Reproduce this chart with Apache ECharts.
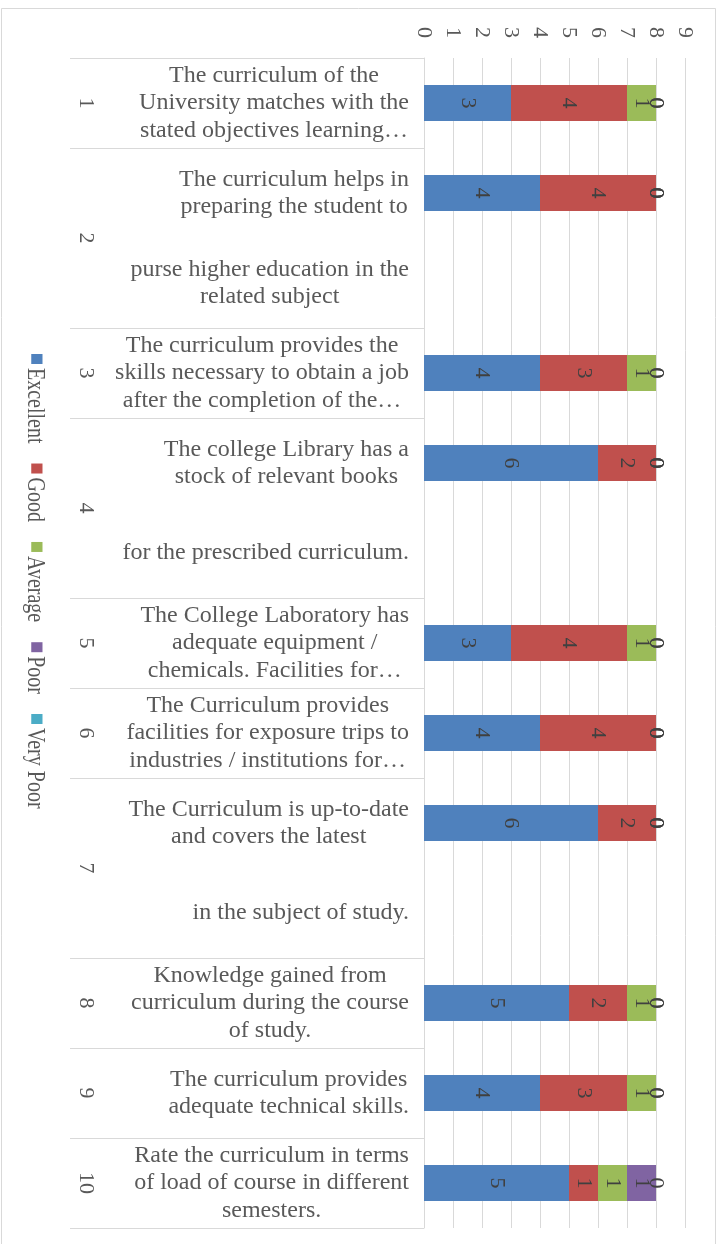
<!DOCTYPE html>
<html>
<head>
<meta charset="utf-8">
<script src="https://cdn.jsdelivr.net/npm/echarts@6/dist/echarts.min.js"></script>
<style>
  html, body { margin: 0; padding: 0; background: #fff; }
  #chart { width: 721px; height: 1244px; }
</style>
</head>
<body>
<div id="chart"></div>
<script>
// row number each category slot belongs to (rows 2, 4 and 7 take two slots)
const slotRow = ['1', '2', '2', '3', '4', '4', '5', '6', '7', '7', '8', '9', '10'];
const slotText = [
  'The curriculum of the\nUniversity matches with the\nstated objectives learning…',
  'The curriculum helps in\npreparing the student to',
  'purse higher education in the\nrelated subject',
  'The curriculum provides the\nskills necessary to obtain a job\nafter the completion of the…',
  'The college Library has a\nstock of relevant books',
  'for the prescribed curriculum.',
  'The College Laboratory has\nadequate equipment /\nchemicals. Facilities for…',
  'The Curriculum provides\nfacilities for exposure trips to\nindustries / institutions for…',
  'The Curriculum is up-to-date\nand covers the latest',
  'in the subject of study.',
  'Knowledge gained from\ncurriculum during the course\nof study.',
  'The curriculum provides\nadequate technical skills.',
  'Rate the curriculum in terms\nof load of course in different\nsemesters.'
];
const seriesNames = ['Excellent', 'Good', 'Average', 'Poor', 'Very Poor'];
const excellent = [3, 4, null, 4, 6, null, 3, 4, 6, null, 5, 4, 5];
const good      = [4, 4, null, 3, 2, null, 4, 4, 2, null, 2, 3, 1];
const average   = [1, 0, null, 1, 0, null, 1, 0, 0, null, 1, 1, 1];
const poor      = [0, 0, null, 0, 0, null, 0, 0, 0, null, 0, 0, 1];
const veryPoor  = [0, 0, null, 0, 0, null, 0, 0, 0, null, 0, 0, 0];
const colors = ['#4F81BD', '#C0504D', '#9BBB59', '#8064A2', '#4BACC6'];

const seriesData = [excellent, good, average, poor, veryPoor];
const FONT = 'Liberation Serif';

// centre of each row (in slot units) -> row number, used by the outer label axis
const rowCenters = {};
slotRow.forEach((r, i) => {
  if (i > 0 && slotRow[i - 1] === r) return;
  let last = i;
  while (last + 1 < slotRow.length && slotRow[last + 1] === r) last++;
  rowCenters[((i + last + 1) / 2).toFixed(1)] = r;
});

// legend drawn as a rotated group
const ctx = document.createElement('canvas').getContext('2d');
ctx.font = '20px "' + FONT + '"';
const legendItems = [];
let pos = 0;
seriesNames.forEach((name, i) => {
  legendItems.push({ type: 'rect', shape: { x: pos, y: -6, width: 10, height: 9 }, style: { fill: colors[i] } });
  pos += 14;
  legendItems.push({
    type: 'text', x: pos, y: 0,
    style: { text: name, font: '20px "' + FONT + '"', fill: '#595959', verticalAlign: 'middle' }
  });
  pos += ctx.measureText(name).width + 20;
});

const chart = echarts.init(document.getElementById('chart'));
chart.setOption({
  animation: false,
  backgroundColor: '#fff',
  grid: { left: 424, right: 36, top: 58, bottom: 16 },
  graphic: [
    {
      type: 'rect', silent: true,
      shape: { x: 1.5, y: 8.5, width: 714, height: 1250 },
      style: { fill: 'none', stroke: '#d9d9d9', lineWidth: 1 }
    },
    { type: 'group', x: 35, y: 354, rotation: -Math.PI / 2, scaleY: 1.25, children: legendItems }
  ],
  xAxis: {
    type: 'value', position: 'top', min: 0, max: 9, interval: 1,
    axisLine: { show: false },
    axisTick: { show: false },
    splitLine: { lineStyle: { color: '#d9d9d9', width: 1 } },
    axisLabel: { rotate: -90, margin: 20, fontFamily: FONT, fontSize: 22, color: '#595959' }
  },
  yAxis: [
    {
      type: 'category', inverse: true, data: slotText,
      axisLine: { show: true, lineStyle: { color: '#d9d9d9' } },
      axisTick: {
        show: true, length: 354, lineStyle: { color: '#d9d9d9' },
        interval: (i) => i === 0 || slotRow[i] !== slotRow[i - 1]
      },
      splitLine: { show: false },
      axisLabel: {
        interval: 0, margin: 15, align: 'right',
        formatter: (v) => v.split('\n').map(s => '{c|' + s + '}').join('\n'),
        rich: { c: { align: 'center', fontFamily: FONT, fontSize: 24, lineHeight: 27.5, color: '#595959' } }
      }
    },
    {
      type: 'value', inverse: true, min: 0, max: slotRow.length, interval: 0.5,
      position: 'left', offset: 327,
      axisLine: { show: false }, axisTick: { show: false }, splitLine: { show: false },
      axisLabel: {
        rotate: -90, margin: 0, fontFamily: FONT, fontSize: 22, color: '#595959',
        formatter: (v) => rowCenters[v.toFixed(1)] || ''
      }
    }
  ],
  series: seriesNames.map((name, i) => ({
    name: name,
    type: 'bar',
    stack: 'total',
    yAxisIndex: 0,
    barWidth: 36,
    data: seriesData[i],
    itemStyle: { color: colors[i] },
    label: { show: true, position: 'inside', rotate: -90, fontFamily: FONT, fontSize: 22, color: '#404040' }
  }))
});
</script>
</body>
</html>
